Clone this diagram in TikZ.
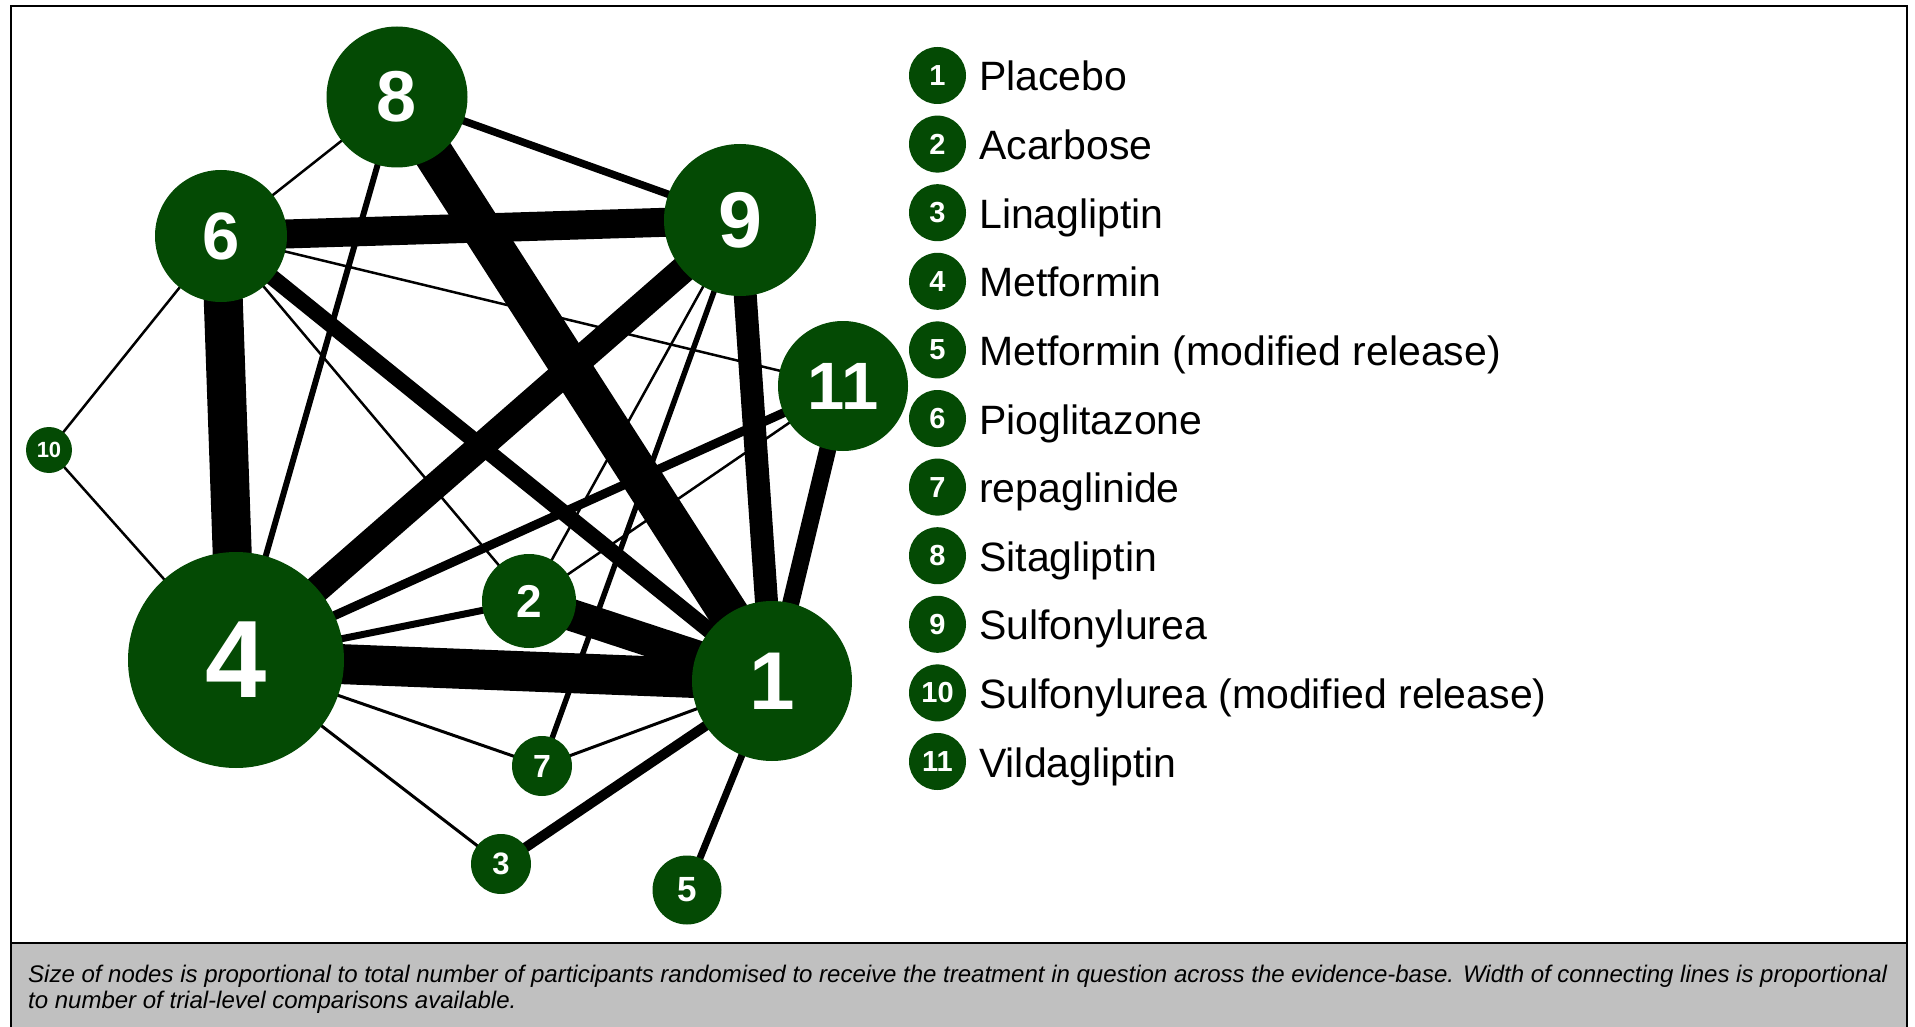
\documentclass[tikz,border=0pt]{standalone}
\usepackage{fontspec}
\setmainfont{Liberation Sans}
\usetikzlibrary{calc}
\definecolor{nodegreen}{RGB}{4,74,4}
\definecolor{capgray}{RGB}{192,192,192}
\pgfdeclarelayer{bg}
\pgfdeclarelayer{edges}
\pgfsetlayers{bg,edges,main}
\begin{document}
\begin{tikzpicture}[x=1pt,y=-1pt,
  tnode/.style={circle, fill=nodegreen, text=white, inner sep=0pt},
  nfont/.style={font=\bfseries\fontsize{#1}{#1}\selectfont},
  conn/.style={draw=black, line width=#1},
  legtext/.style={anchor=base west, inner sep=0pt, font=\fontsize{41}{41}\selectfont},
  captext/.style={anchor=base west, inner sep=0pt, font=\itshape\fontsize{24}{25}\selectfont}]
\useasboundingbox (0,0) rectangle (1915,1027);
\begin{pgfonlayer}{bg}
\fill[white] (0,0) rectangle (1915,1027);
\end{pgfonlayer}
% caption band and frame
\fill[capgray] (11,943) rectangle (1907,1027);
\draw[line width=1.5] (11,943) -- (1907,943);
\draw[line width=2] (11,1027) -- (11,6) -- (1907,6) -- (1907,1027);
% network nodes
\node[tnode, minimum size=160, nfont=82] (n1) at (772,681) {1};
\node[tnode, minimum size=94, nfont=46] (n2) at (529,601) {2};
\node[tnode, minimum size=60, nfont=31] (n3) at (501,864) {3};
\node[tnode, minimum size=216, nfont=110] (n4) at (236,660) {4};
\node[tnode, minimum size=69, nfont=35] (n5) at (687,890) {5};
\node[tnode, minimum size=132, nfont=67] (n6) at (221,236) {6};
\node[tnode, minimum size=60, nfont=32] (n7) at (542,766) {7};
\node[tnode, minimum size=141, nfont=72] (n8) at (397,97) {8};
\node[tnode, minimum size=152, nfont=79] (n9) at (740,220) {9};
\node[tnode, minimum size=46, nfont=22] (n10) at (49,450) {10};
\node[tnode, minimum size=130, nfont=67] (n11) at (843,386) {11};
% connectors
\begin{pgfonlayer}{edges}
\draw[conn=7.5] (n8.center) -- (n9.center);
\draw[conn=2.5] (n8.center) -- (n6.center);
\draw[conn=40] (n8.center) -- (n1.center);
\draw[conn=6] (n8.center) -- (n4.center);
\draw[conn=29] (n6.center) -- (n9.center);
\draw[conn=39] (n6.center) -- (n4.center);
\draw[conn=2.5] (n6.center) -- (n11.center);
\draw[conn=16] (n6.center) -- (n1.center);
\draw[conn=2.5] (n6.center) -- (n2.center);
\draw[conn=2.5] (n6.center) -- (n10.center);
\draw[conn=27] (n9.center) -- (n4.center);
\draw[conn=23] (n9.center) -- (n1.center);
\draw[conn=2.5] (n9.center) -- (n2.center);
\draw[conn=5.5] (n9.center) -- (n7.center);
\draw[conn=9] (n11.center) -- (n4.center);
\draw[conn=2.5] (n11.center) -- (n2.center);
\draw[conn=17] (n11.center) -- (n1.center);
\draw[conn=7] (n4.center) -- (n2.center);
\draw[conn=40] (n4.center) -- (n1.center);
\draw[conn=32] (n2.center) -- (n1.center);
\draw[conn=3] (n4.center) -- (n7.center);
\draw[conn=3] (n4.center) -- (n3.center);
\draw[conn=2.5] (n4.center) -- (n10.center);
\draw[conn=3] (n7.center) -- (n1.center);
\draw[conn=10] (n3.center) -- (n1.center);
\draw[conn=7] (n5.center) -- (n1.center);
\end{pgfonlayer}
% legend
\foreach \i/\lab in {1/Placebo, 2/Acarbose, 3/Linagliptin, 4/Metformin,
  5/Metformin (modified release), 6/Pioglitazone, 7/repaglinide,
  8/Sitagliptin, 9/Sulfonylurea, 10/Sulfonylurea (modified release),
  11/Vildagliptin} {
  \pgfmathsetmacro{\yy}{75.5+(\i-1)*68.6}
  \node[tnode, minimum size=57, nfont=29] (leg\i) at (937.5,\yy) {\i};
  \node[legtext] (legt\i) at (979,\yy+15.5) {\lab};
}
% caption
\node[captext] (cap1) at (28,982) {Size of nodes is proportional to total number of participants randomised to receive the treatment in question across the evidence-base. Width of connecting lines is proportional};
\node[captext] (cap2) at (28,1008) {to number of trial-level comparisons available.};
\end{tikzpicture}
\end{document}
